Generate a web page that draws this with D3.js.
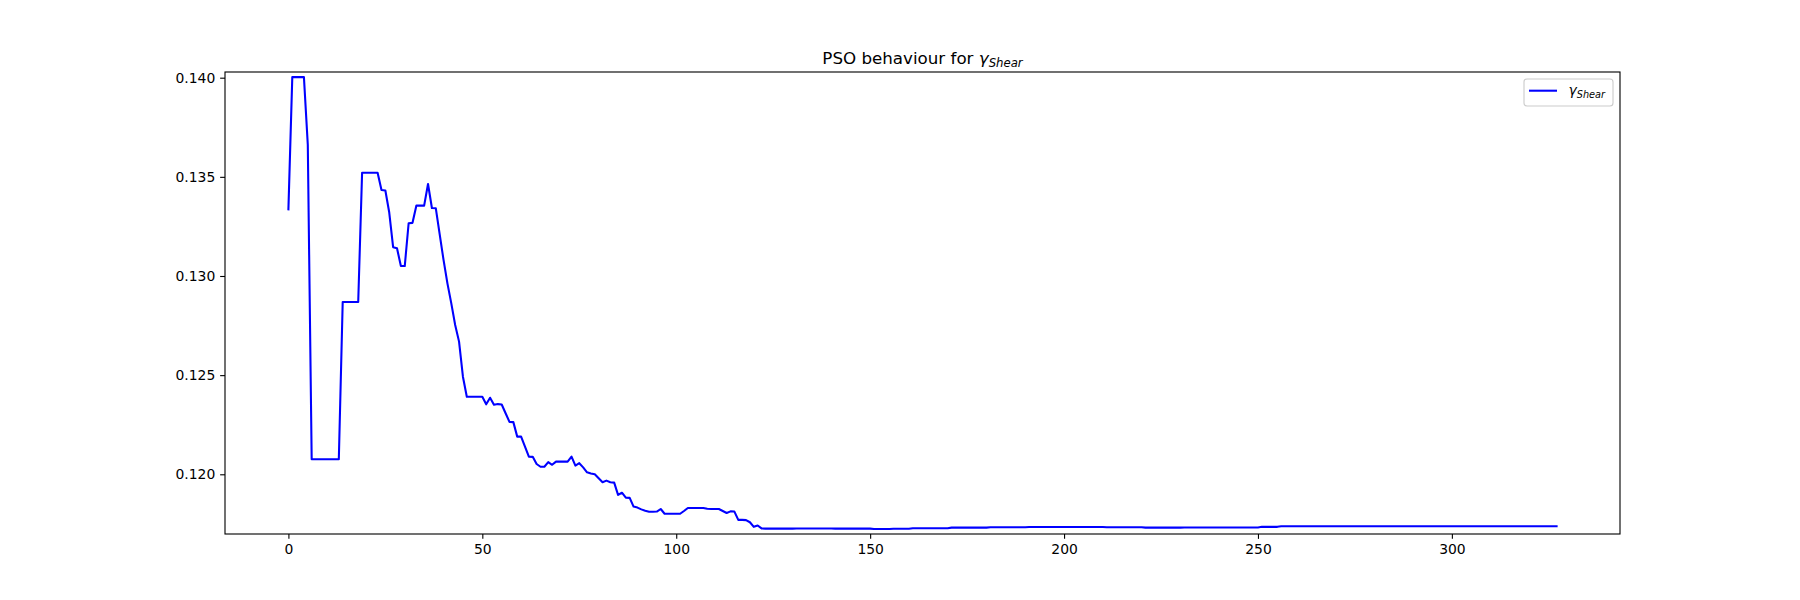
<!DOCTYPE html>
<html>
<head>
<meta charset="utf-8">
<script src="https://cdn.jsdelivr.net/npm/d3@7"></script>
<style>
  body { margin: 0; background: #fff; }
  text { font-family: "DejaVu Sans", sans-serif; }
</style>
</head>
<body>
<div id="d3-container"></div>
<script>
// gamma_shear value per PSO iteration (index = iteration)
const gammaShear = [
  0.13336, 0.14003, 0.14003, 0.14003, 0.14003, 0.13661, 0.12076, 0.12076, 0.12076, 0.12076,
  0.12076, 0.12076, 0.12076, 0.12076, 0.12869, 0.12869, 0.12869, 0.12869, 0.12869, 0.13521,
  0.13521, 0.13521, 0.13521, 0.13521, 0.13434, 0.13431, 0.13320, 0.13145, 0.13140, 0.13050,
  0.13050, 0.13266, 0.13268, 0.13355, 0.13355, 0.13355, 0.13464, 0.13343, 0.13342, 0.13211,
  0.13081, 0.12963, 0.12862, 0.12753, 0.12669, 0.12492, 0.12391, 0.12391, 0.12391, 0.12391,
  0.12391, 0.12353, 0.12386, 0.12351, 0.12354, 0.12352, 0.12308, 0.12264, 0.12263, 0.12190,
  0.12190, 0.12140, 0.12089, 0.12088, 0.12052, 0.12038, 0.12038, 0.12061, 0.12048, 0.12064,
  0.12064, 0.12064, 0.12064, 0.12089, 0.12044, 0.12056, 0.12035, 0.12010, 0.12004, 0.12000,
  0.11980, 0.11960, 0.11968, 0.11960, 0.11958, 0.11896, 0.11907, 0.11882, 0.11881, 0.11837,
  0.11832, 0.11823, 0.11816, 0.11811, 0.11811, 0.11812, 0.11825, 0.11801, 0.11801, 0.11801,
  0.11801, 0.11801, 0.11815, 0.11830, 0.11830, 0.11830, 0.11830, 0.11830, 0.11826, 0.11825,
  0.11825, 0.11825, 0.11815, 0.11805, 0.11813, 0.11812, 0.11770, 0.11770, 0.11769, 0.11758,
  0.11735, 0.11742, 0.11727, 0.11726, 0.11726, 0.11726, 0.11726, 0.11726, 0.11726, 0.11726,
  0.11726, 0.11727, 0.11727, 0.11727, 0.11727, 0.11727, 0.11727, 0.11727, 0.11727, 0.11727,
  0.11727, 0.11726, 0.11726, 0.11726, 0.11726, 0.11726, 0.11726, 0.11726, 0.11726, 0.11726,
  0.11726, 0.11724, 0.11724, 0.11724, 0.11724, 0.11724, 0.11725, 0.11725, 0.11725, 0.11725,
  0.11725, 0.11728, 0.11728, 0.11728, 0.11728, 0.11728, 0.11728, 0.11728, 0.11728, 0.11728,
  0.11728, 0.11731, 0.11731, 0.11731, 0.11731, 0.11731, 0.11731, 0.11731, 0.11731, 0.11731,
  0.11731, 0.11733, 0.11733, 0.11733, 0.11733, 0.11733, 0.11733, 0.11733, 0.11733, 0.11733,
  0.11733, 0.11734, 0.11734, 0.11734, 0.11734, 0.11734, 0.11734, 0.11734, 0.11734, 0.11734,
  0.11734, 0.11734, 0.11734, 0.11734, 0.11734, 0.11734, 0.11734, 0.11734, 0.11734, 0.11734,
  0.11734, 0.11733, 0.11733, 0.11733, 0.11733, 0.11733, 0.11733, 0.11733, 0.11733, 0.11733,
  0.11733, 0.11731, 0.11731, 0.11731, 0.11731, 0.11731, 0.11731, 0.11731, 0.11731, 0.11731,
  0.11731, 0.11732, 0.11732, 0.11732, 0.11732, 0.11732, 0.11732, 0.11732, 0.11732, 0.11732,
  0.11732, 0.11732, 0.11732, 0.11732, 0.11732, 0.11732, 0.11732, 0.11732, 0.11732, 0.11732,
  0.11732, 0.11735, 0.11735, 0.11735, 0.11735, 0.11735, 0.11738, 0.11738, 0.11738, 0.11738,
  0.11738, 0.11738, 0.11738, 0.11738, 0.11738, 0.11738, 0.11738, 0.11738, 0.11738, 0.11738,
  0.11738, 0.11738, 0.11738, 0.11738, 0.11738, 0.11738, 0.11738, 0.11738, 0.11738, 0.11738,
  0.11738, 0.11738, 0.11738, 0.11738, 0.11738, 0.11738, 0.11738, 0.11738, 0.11738, 0.11738,
  0.11738, 0.11738, 0.11738, 0.11738, 0.11738, 0.11738, 0.11738, 0.11738, 0.11738, 0.11738,
  0.11738, 0.11738, 0.11738, 0.11738, 0.11738, 0.11738, 0.11738, 0.11738, 0.11738, 0.11738,
  0.11738, 0.11738, 0.11738, 0.11738, 0.11738, 0.11738, 0.11738, 0.11738, 0.11738, 0.11738,
  0.11738, 0.11738, 0.11738, 0.11738, 0.11738, 0.11738, 0.11738, 0.11738
];
const xTicks = [0, 50, 100, 150, 200, 250, 300];
const yTicks = [0.120, 0.125, 0.130, 0.135, 0.140];
const xLimits = [-16.35, 343.35];
const yLimits = [0.116989, 0.140287];

const width = 1800;
const height = 600;
const margin = { top: 72, right: 180, bottom: 66, left: 225 };

const svg = d3.select('#d3-container')
  .append('svg')
  .attr('width', width)
  .attr('height', height)
  .attr('viewBox', [0, 0, width, height]);

const x = d3.scaleLinear()
  .domain(xLimits)
  .range([margin.left, width - margin.right]);

const y = d3.scaleLinear()
  .domain(yLimits)
  .range([height - margin.bottom, margin.top]);

// plot line
const line = d3.line()
  .x((d, i) => x(i))
  .y(d => y(d));

svg.append('path')
  .datum(gammaShear)
  .attr('fill', 'none')
  .attr('stroke', '#0000ff')
  .attr('stroke-width', 2.08)
  .attr('stroke-linejoin', 'round')
  .attr('stroke-linecap', 'square')
  .attr('d', line);

// axes
function xAxis(g) {
  g.attr('transform', `translate(0,${height - margin.bottom})`)
    .call(d3.axisBottom(x).tickValues(xTicks).tickSize(4.86).tickPadding(4.86).tickFormat(d3.format('d')))
    .call(g => g.select('.domain').remove())
    .attr('font-size', '13.9px')
    .attr('font-family', 'DejaVu Sans');
  g.selectAll('.tick line').attr('stroke-width', 1.11);
}

function yAxis(g) {
  g.attr('transform', `translate(${margin.left},0)`)
    .call(d3.axisLeft(y).tickValues(yTicks).tickSize(4.86).tickPadding(4.86).tickFormat(d3.format('.3f')))
    .call(g => g.select('.domain').remove())
    .attr('font-size', '13.9px')
    .attr('font-family', 'DejaVu Sans');
  g.selectAll('.tick line').attr('stroke-width', 1.11);
}

svg.append('g').call(xAxis);
svg.append('g').call(yAxis);

// frame
svg.append('rect')
  .attr('x', margin.left)
  .attr('y', margin.top)
  .attr('width', width - margin.left - margin.right)
  .attr('height', height - margin.top - margin.bottom)
  .attr('fill', 'none')
  .attr('stroke', '#000')
  .attr('stroke-width', 1.11);

// title
const title = svg.append('text')
  .attr('x', (margin.left + width - margin.right) / 2)
  .attr('y', margin.top - 8.5)
  .attr('text-anchor', 'middle')
  .attr('font-size', '16.7px')
  .attr('fill', '#000');
title.append('tspan').text('PSO behaviour for ');
title.append('tspan').attr('font-style', 'italic').text('γ');
title.append('tspan').attr('font-style', 'italic').attr('font-size', '11.7px').attr('dy', 3).text('Shear');

// legend
const lx = width - margin.right - 7;
const ly = margin.top + 7;
const legend = svg.append('g');
legend.append('rect')
  .attr('x', lx - 89)
  .attr('y', ly)
  .attr('width', 89)
  .attr('height', 27)
  .attr('rx', 3)
  .attr('fill', '#fff')
  .attr('fill-opacity', 0.8)
  .attr('stroke', '#cccccc')
  .attr('stroke-width', 1.11);
legend.append('line')
  .attr('x1', lx - 84)
  .attr('x2', lx - 56)
  .attr('y1', ly + 11.7)
  .attr('y2', ly + 11.7)
  .attr('stroke', '#0000ff')
  .attr('stroke-width', 2.08);
const ltext = legend.append('text')
  .attr('x', lx - 44.5)
  .attr('y', ly + 16)
  .attr('font-size', '13.9px')
  .attr('fill', '#000');
ltext.append('tspan').attr('font-style', 'italic').text('γ');
ltext.append('tspan').attr('font-style', 'italic').attr('font-size', '9.7px').attr('dy', 2.5).text('Shear');
</script>
</body>
</html>
